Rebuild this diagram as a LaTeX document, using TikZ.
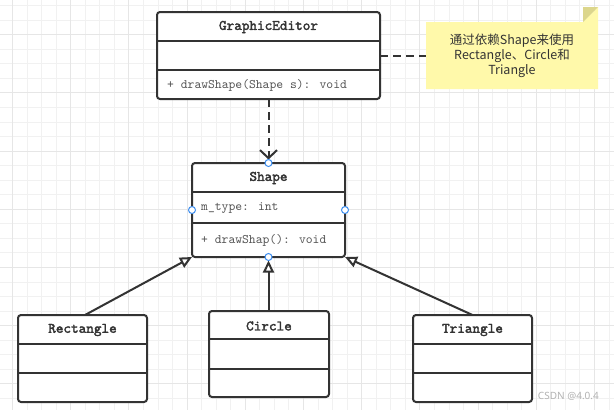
\documentclass[tikz,border=0pt]{standalone}
\usepackage{fontspec}
\newfontfamily\monofont{lmmono10-regular.otf}
\newfontfamily\titlefont[FakeBold=2.2]{lmmono10-regular.otf}
\newfontfamily\cjkfont{Noto Sans CJK SC}
\newfontfamily\wmfont{Noto Sans}
\usetikzlibrary{arrows.meta}
\definecolor{ink}{HTML}{333333}
\definecolor{memberink}{HTML}{555555}
\definecolor{portblue}{HTML}{3D8EF0}
\definecolor{notefill}{HTML}{FFF9AA}
\definecolor{notefold}{HTML}{DCD68C}
\definecolor{gridminor}{HTML}{F1F1F1}
\definecolor{gridmajor}{HTML}{E6E6E6}
\tikzset{
  umlbox/.style={draw=ink, line width=2pt, rounded corners=3pt, fill=white, inner sep=0pt, outer sep=0pt},
  divider/.style={draw=ink, line width=1.6pt},
  ctitle/.style={font=\titlefont\fontsize{14.5}{16}\selectfont, text=ink, inner sep=0pt},
  member/.style={font=\monofont\fontsize{13}{15}\selectfont, text=memberink, anchor=west, inner sep=0pt},
  port/.style={circle, draw=portblue, fill=white, line width=1pt, minimum size=7pt, inner sep=0pt},
  gen/.style={draw=ink, line width=2pt, -{Triangle[open, length=12pt, width=11pt, fill=white]}},
  dep/.style={draw=ink, line width=2pt, dash pattern=on 8pt off 5pt, -{Straight Barb[length=8pt, width=17pt]}},
  notelink/.style={draw=ink, line width=2pt, dash pattern=on 8pt off 5pt},
  notetext/.style={font=\cjkfont\fontsize{12.5}{15}\selectfont, text=ink, align=center, inner sep=0pt},
  gminor/.style={draw=gridminor, line width=1pt},
  gmajor/.style={draw=gridmajor, line width=1pt}
}
\begin{document}
\begin{tikzpicture}[x=1pt,y=-1pt]
\useasboundingbox (0,0) rectangle (614,410);
\fill[white] (0,0) rectangle (614,410);
% grid
\foreach \i in {0,...,41} {
  \pgfmathsetmacro\xx{12.5+14.55*\i}
  \draw[gminor] (\xx,0) -- (\xx,410);
}
\foreach \i in {0,...,28} {
  \pgfmathsetmacro\yy{5.6+14.55*\i}
  \draw[gminor] (0,\yy) -- (614,\yy);
}
\foreach \i in {0,...,10} {
  \pgfmathsetmacro\xx{12.5+58.2*\i}
  \draw[gmajor] (\xx,0) -- (\xx,410);
}
\foreach \i in {0,...,6} {
  \pgfmathsetmacro\yy{34.7+58.2*\i}
  \draw[gmajor] (0,\yy) -- (614,\yy);
}

% GraphicEditor
\node[umlbox, minimum width=223pt, minimum height=87pt] (ge) at (268.5,55.5) {};
\path (ge.north west) ++(0,29) coordinate (ge1) ++(0,29) coordinate (ge2);
\draw[divider] (ge1) -- (ge1 -| ge.east);
\draw[divider] (ge2) -- (ge2 -| ge.east);
\node[ctitle] (get) at (268.5,27) {GraphicEditor};
\node[member] (gem) at (167,85) {+ drawShape(Shape s): void};

% Shape
\node[umlbox, minimum width=153pt, minimum height=94pt] (sh) at (268.5,210) {};
\path (sh.north west) ++(0,29) coordinate (sh1) ++(0,31) coordinate (sh2);
\draw[divider] (sh1) -- (sh1 -| sh.east);
\draw[divider] (sh2) -- (sh2 -| sh.east);
\node[ctitle] (sht) at (268.5,178) {Shape};
\node[member] (sha) at (201,208) {m\_type: int};
\node[member] (shm) at (201,240) {+ drawShap(): void};

% Rectangle
\node[umlbox, minimum width=129pt, minimum height=87pt] (rect) at (82.5,358.5) {};
\path (rect.north west) ++(0,29) coordinate (re1) ++(0,29) coordinate (re2);
\draw[divider] (re1) -- (re1 -| rect.east);
\draw[divider] (re2) -- (re2 -| rect.east);
\node[ctitle] (ret) at (82.5,330) {Rectangle};

% Circle
\node[umlbox, minimum width=120pt, minimum height=86pt] (circ) at (269,354) {};
\path (circ.north west) ++(0,28) coordinate (ci1) ++(0,30) coordinate (ci2);
\draw[divider] (ci1) -- (ci1 -| circ.east);
\draw[divider] (ci2) -- (ci2 -| circ.east);
\node[ctitle] (cit) at (269,326) {Circle};

% Triangle
\node[umlbox, minimum width=119pt, minimum height=87pt] (tri) at (472.5,358.5) {};
\path (tri.north west) ++(0,29) coordinate (tr1) ++(0,29) coordinate (tr2);
\draw[divider] (tr1) -- (tr1 -| tri.east);
\draw[divider] (tr2) -- (tr2 -| tri.east);
\node[ctitle] (trt) at (472.5,330) {Triangle};

% Note
\node[minimum width=172pt, minimum height=67pt, inner sep=0pt, outer sep=0pt] (note) at (512,55.5) {};
\fill[notefill] (note.north west) -- ([xshift=-15pt]note.north east) -- ([yshift=15pt]note.north east) -- (note.south east) -- (note.south west) -- cycle;
\fill[notefold] ([xshift=-15pt]note.north east) -- ([xshift=-15pt,yshift=15pt]note.north east) -- ([yshift=15pt]note.north east) -- cycle;
\node[notetext] (notet) at (512,56) {通过依赖Shape来使用\\Rectangle、Circle和\\Triangle};

% connectors
\draw[notelink] (ge.east) -- (note.west);
\draw[dep, shorten >=3.5pt] (ge.south) -- (sh.north);
\draw[gen] ([xshift=2.5pt]rect.north) -- (sh.south west);
\draw[gen, shorten >=3.5pt] (circ.north -| sh.south) -- (sh.south);
\draw[gen] (tri.north) -- (sh.south east);

% ports
\node[port] (p1) at (sh.north) {};
\node[port] (p2) at (sh.west) {};
\node[port] (p3) at (sh.east) {};
\node[port] (p4) at (sh.south) {};

% watermark
\node[font=\wmfont\fontsize{10}{12}\selectfont, text=gray!60, anchor=east, inner sep=0pt] (wm) at (599,396) {CSDN @4.0.4};
\end{tikzpicture}
\end{document}
